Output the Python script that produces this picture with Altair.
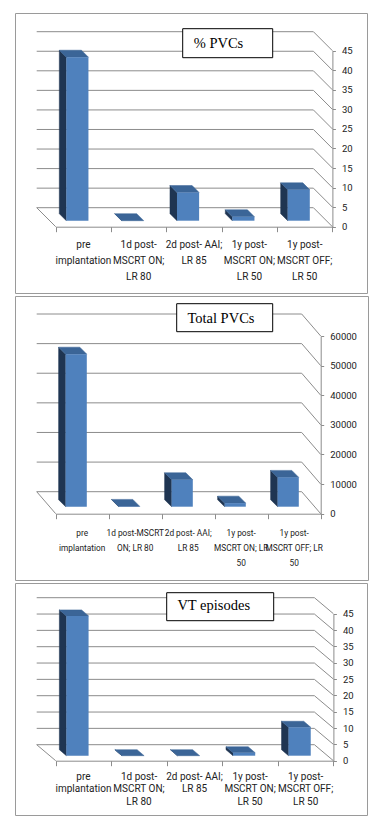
import altair as alt
import pandas as pd

# ---- data ----
CATS_A = ["pre\nimplantation", "1d post-\nMSCRT ON;\nLR 80", "2d post- AAI;\nLR 85",
          "1y post-\nMSCRT ON;\nLR 50", "1y post-\nMSCRT OFF;\nLR 50"]
CATS_B = ["pre\nimplantation", "1d post-MSCRT\nON; LR 80", "2d post- AAI;\nLR 85",
          "1y post-\nMSCRT ON;  LR\n50", "1y post-\nMSCRT OFF; LR\n50"]

PCT_PVCS = [41.8, 0.0, 7.2, 1.0, 7.9]
TOTAL_PVCS = [51500, 100, 9100, 1200, 9900]
VT_EPISODES = [42.8, 0.0, 0.0, 0.9, 8.7]

TITLES = ["% PVCs", "Total PVCs", "VT episodes"]
TICKS_A = [0, 5, 10, 15, 20, 25, 30, 35, 40, 45]
TICKS_B = [0, 10000, 20000, 30000, 40000, 50000, 60000]

# ---- styles ----
GRID = "#8c8c8c"
FRONT = "#4f81bd"
TOP = "#3b6597"
SIDE = "#1f3552"
LABEL_FONT = "Roboto, Liberation Sans, sans-serif"
TITLE_FONT = "Liberation Serif, Times New Roman, serif"

# geometry per panel (pixels inside each panel)
G = [
    dict(W=352, H=280, x0=40.7, x5=317.4, yz=213.7, yt=37.7, back=(19, 19),
         bf=(6, 6), bb=(13, 13), box=(167.7, 257.7, 15.7, 44.7), tx=178.7, ty=35,
         lab_y=235.4, lh=16, fs=10),
    dict(W=353, H=284, x0=40.7, x5=305.7, yz=217.7, yt=40.0, back=(19, 22),
         bf=(6, 7), bb=(13, 14), box=(161.7, 257.7, 7.7, 35.7), tx=172.4, ty=27,
         lab_y=240, lh=15, fs=8.3),
    dict(W=352, H=232, x0=40.7, x5=318.4, yz=177.7, yt=30.7, back=(19, 16),
         bf=(6, 5), bb=(13, 11), box=(151.7, 258.7, 9.7, 37.7), tx=162.4, ty=27,
         lab_y=196.7, lh=12.5, fs=10),
]


def panel(title, cats, values, ticks, g):
    n = len(cats)
    ymax = ticks[-1]
    xs = alt.Scale(domain=[0, n], range=[g["x0"], g["x5"]], nice=False, zero=False)
    ys = alt.Scale(domain=[0, ymax], range=[g["yz"], g["yt"]], nice=False, zero=False)
    x_axis = alt.Axis(orient="bottom", offset=-(g["H"] - g["yz"]),
                      values=list(range(n + 1)), labels=False, ticks=True,
                      tickSize=5, tickColor=GRID, domainColor=GRID,
                      grid=False, title=None)
    y_axis = alt.Axis(orient="right", offset=-(g["W"] - g["x5"]),
                      values=ticks, format="d", tickSize=3, tickColor=GRID,
                      domainColor=GRID, grid=False, title=None,
                      labelFont=LABEL_FONT, labelFontSize=9.5,
                      labelColor="#222", labelPadding=6)
    ux = n / (g["x5"] - g["x0"])
    uy = ymax / (g["yz"] - g["yt"])
    fdx, fdy = g["bf"][0] * ux, g["bf"][1] * uy
    bdx, bdy = g["bb"][0] * ux, g["bb"][1] * uy
    w = 0.2

    def X(f):
        return alt.X(f, type="quantitative", scale=xs, axis=x_axis)

    def Y(f):
        return alt.Y(f, type="quantitative", scale=ys, axis=y_axis)

    bx, by = g["back"]
    grid_df = pd.DataFrame({"t": ticks, "xa": [0] * len(ticks), "xb": [n] * len(ticks)})

    back = alt.Chart(grid_df).mark_rule(
        color=GRID, strokeWidth=1, xOffset=-bx, x2Offset=-bx, yOffset=-by, y2Offset=-by
    ).encode(x=X("xa"), x2="xb", y=Y("t"))

    diag = alt.Chart(grid_df).mark_rule(
        color=GRID, strokeWidth=1, x2Offset=-bx, y2Offset=-by
    ).encode(x=X("xb"), x2="xb", y=Y("t"), y2="t")

    floor_df = pd.DataFrame({"xa": [0], "t": [0]})
    floor = alt.Chart(floor_df).mark_rule(
        color=GRID, strokeWidth=1, x2Offset=-bx, y2Offset=-by
    ).encode(x=X("xa"), x2="xa", y=Y("t"), y2="t")

    bx0, bx1, by0, by1 = g["box"]
    tdf = pd.DataFrame({"title": [title]})
    box = alt.Chart(tdf).mark_rect(fill="white", stroke="black", strokeWidth=1).encode(
        x=alt.value(bx0), x2=alt.value(bx1), y=alt.value(by0), y2=alt.value(by1))
    ttext = alt.Chart(tdf).mark_text(
        font=TITLE_FONT, fontSize=14.5, align="left", baseline="alphabetic", color="black"
    ).encode(x=alt.value(g["tx"]), y=alt.value(g["ty"]), text="title:N")

    rows, side_rows, top_rows, line_rows = [], [], [], []
    for i, (c, v) in enumerate(zip(cats, values)):
        cx = i + 0.5
        rows.append(dict(idx=i, c=cx,
                         fx0=cx - w - fdx, fx1=cx + w - fdx, fy0=fdy, fy1=v + fdy))
        side_rows.append(dict(idx=i, sx=cx - w - bdx, sy0=bdy, sy1=v + bdy))
        side_rows.append(dict(idx=i, sx=cx - w - fdx, sy0=fdy, sy1=v + fdy))
        top_rows.append(dict(idx=i, ty=v + fdy, tx0=cx - w - fdx, tx1=cx + w - fdx))
        top_rows.append(dict(idx=i, ty=v + bdy, tx0=cx - w - bdx, tx1=cx + w - bdx))
        for k, line in enumerate(c.split("\n")):
            line_rows.append(dict(idx=i, c=cx, k=k, line=line))
    bdf = pd.DataFrame(rows)
    ldf = pd.DataFrame(line_rows)

    side = alt.Chart(pd.DataFrame(side_rows)).mark_area(
        color=SIDE, orient="vertical", stroke=SIDE, strokeWidth=0.5
    ).encode(x=X("sx"), y=Y("sy0"), y2="sy1", detail="idx:N")

    top = alt.Chart(pd.DataFrame(top_rows)).mark_area(
        color=TOP, orient="horizontal", stroke=TOP, strokeWidth=0.5
    ).encode(y=Y("ty"), x=X("tx0"), x2="tx1", detail="idx:N")

    front = alt.Chart(bdf).mark_bar(color=FRONT).encode(
        x=X("fx0"), x2="fx1", y=Y("fy0"), y2="fy1")

    label_layers = []
    for k in range(int(ldf["k"].max()) + 1):
        label_layers.append(
            alt.Chart(ldf).transform_filter(alt.datum.k == k).mark_text(
                align="center", baseline="alphabetic", font=LABEL_FONT,
                fontSize=g["fs"], color="#222"
            ).encode(x=X("c"), y=alt.value(g["lab_y"] + k * g["lh"]), text="line:N")
        )

    return alt.layer(back, diag, floor, box, ttext, side, top, front,
                     *label_layers).properties(width=g["W"], height=g["H"])


p1 = panel(TITLES[0], CATS_A, PCT_PVCS, TICKS_A, G[0])
p2 = panel(TITLES[1], CATS_B, TOTAL_PVCS, TICKS_B, G[1])
p3 = panel(TITLES[2], CATS_A, VT_EPISODES, TICKS_A, G[2])

chart = alt.vconcat(p1, p2, p3, spacing=1).properties(
    padding={"left": 6, "top": 4, "right": 0, "bottom": 0}
).configure_view(stroke="#9a9a9a", strokeWidth=1)

chart.save("out.html", embed_options={"renderer": "svg", "actions": False})
